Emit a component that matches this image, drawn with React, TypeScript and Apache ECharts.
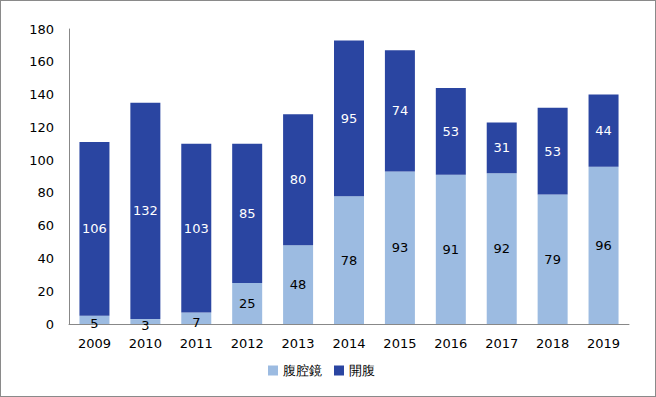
import React, { useEffect, useRef } from "react";
import * as echarts from "echarts";

const years = ["2009", "2010", "2011", "2012", "2013", "2014", "2015", "2016", "2017", "2018", "2019"];
const laparoscopic = [5, 3, 7, 25, 48, 78, 93, 91, 92, 79, 96];
const open = [106, 132, 103, 85, 80, 95, 74, 53, 31, 53, 44];
const yTicks = { min: 0, max: 180, interval: 20 };

const FONT = "'DejaVu Sans', Verdana, sans-serif";

export default function App() {
  const ref = useRef<HTMLDivElement>(null);
  useEffect(() => {
    document.body.style.margin = "0";
    const chart = echarts.init(ref.current!, null, { renderer: "svg" });
    chart.setOption({
      animation: false,
      textStyle: { fontFamily: FONT },
      grid: { left: 68, right: 26, top: 28, bottom: 72, containLabel: false },
      legend: {
        bottom: 19,
        left: 267,
        padding: 0,
        itemWidth: 10,
        itemHeight: 10,
        itemGap: 12,
        icon: "rect",
        textStyle: { fontFamily: FONT, fontSize: 13, color: "#000" },
        data: ["腹腔鏡", "開腹"],
      },
      xAxis: {
        type: "category",
        data: years,
        axisLine: { lineStyle: { color: "#888", width: 1 } },
        axisTick: { show: false },
        axisLabel: { color: "#000", fontSize: 13, fontFamily: FONT, margin: 13 },
      },
      yAxis: {
        type: "value",
        min: yTicks.min,
        max: yTicks.max,
        interval: yTicks.interval,
        axisLine: { show: true, lineStyle: { color: "#888", width: 1 } },
        axisTick: { show: false },
        splitLine: { show: false },
        axisLabel: { color: "#000", fontSize: 13, fontFamily: FONT, margin: 15 },
      },
      series: [
        {
          name: "腹腔鏡",
          type: "bar",
          stack: "total",
          barWidth: 30,
          itemStyle: { color: "#9cbbe1" },
          data: laparoscopic.map((v) => ({
            value: v,
            label: v < 10 ? { offset: [0, 4] } : undefined,
          })),
          label: {
            show: true,
            position: "inside",
            color: "#000",
            fontSize: 13,
            fontFamily: FONT,
          },
        },
        {
          name: "開腹",
          type: "bar",
          stack: "total",
          barWidth: 30,
          itemStyle: { color: "#2a45a1" },
          data: open,
          label: {
            show: true,
            position: "inside",
            color: "#fff",
            fontSize: 13,
            fontFamily: FONT,
          },
        },
      ],
    });
    return () => chart.dispose();
  }, []);
  return (
    <div
      style={{
        position: "absolute",
        left: 0,
        top: 0,
        width: 656,
        height: 397,
        border: "1px solid #8a8a8a",
        boxSizing: "border-box",
        background: "#fff",
      }}
    >
      <div ref={ref} style={{ width: 654, height: 395 }} />
    </div>
  );
}
